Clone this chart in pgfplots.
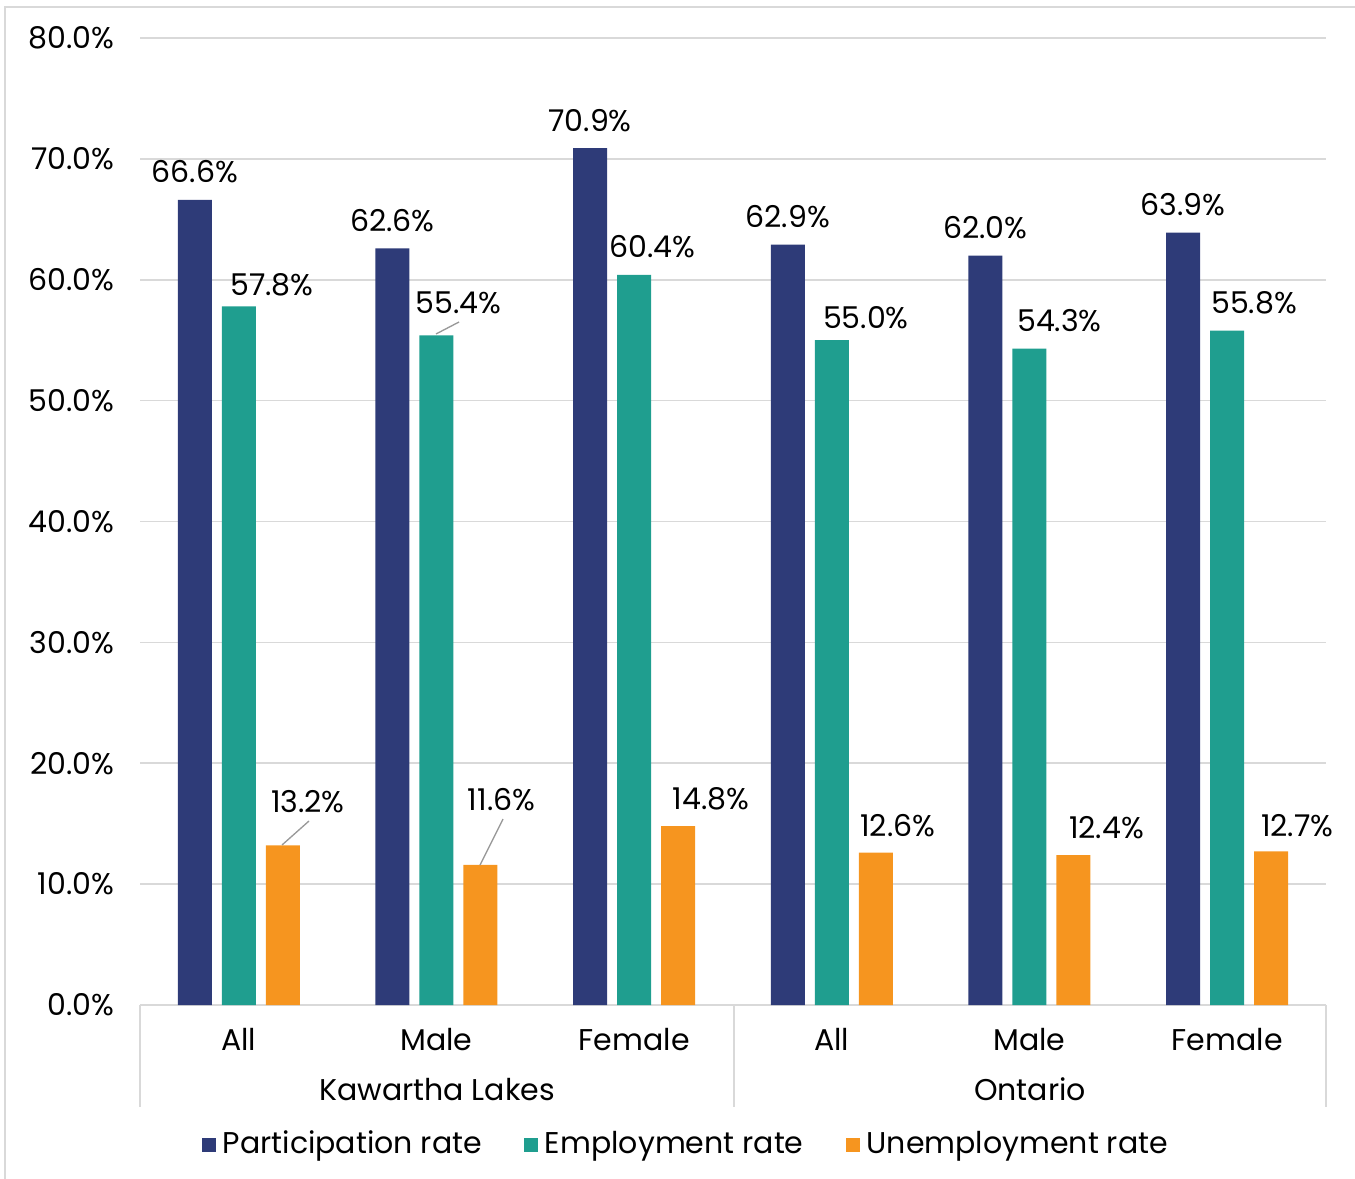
\documentclass[border=0pt]{standalone}
\usepackage{fontspec}
\setmainfont{Poppins}
\usepackage{pgfplots}
\usepackage{pgfplotstable}
\pgfplotsset{compat=1.18}

\definecolor{navy}{HTML}{2E3B78}
\definecolor{cteal}{HTML}{1F9E8F}
\definecolor{corange}{HTML}{F6951F}
\definecolor{gridgray}{HTML}{D9D9D9}

% label offsets in px (dx right of bar centre, dy baseline above bar top)
\pgfplotstableread{
x p e edx edy u udx udy
0 66.6 57.8 33 11 13.2 25 33
1 62.6 55.4 22 22 11.6 21 54
2 70.9 60.4 18 17 14.8 33 17
3 62.9 55.0 34 12 12.6 22 16
4 62.0 54.3 30 17 12.4 33 17
5 63.9 55.8 27 17 12.7 26 15
}\data

\begin{document}
\begin{tikzpicture}[font=\fontsize{9}{11}\selectfont]
\useasboundingbox (0,0) rectangle (406.5pt,353.4pt);
\begin{scope}[x=0.3pt,y=-0.3pt,shift={(0pt,353.4pt)}]
  \draw[gridgray, line width=0.6pt] (5,1200) -- (5,7) -- (1370,7);
\end{scope}

\begin{axis}[
  at={(42pt,51.9pt)}, anchor=south west,
  scale only axis, width=355.8pt, height=290.1pt,
  xmin=-0.5, xmax=5.5, ymin=0, ymax=80,
  ytick={0,10,...,80},
  xtick={0,...,5}, xticklabels={All,Male,Female,All,Male,Female},
  ymajorgrids, grid style={gridgray, line width=0.5pt},
  axis x line=bottom, axis y line=left,
  x axis line style={gridgray, line width=0.5pt, -},
  y axis line style={draw=none},
  major tick length=0pt,
  /pgf/number format/assume math mode=true,
  yticklabel={\pgfmathprintnumber[fixed,fixed zerofill,precision=1]{\tick}\%},
  yticklabel style={anchor=east, inner sep=0pt, xshift=-7.5pt},
  xticklabel style={anchor=base, inner sep=0pt, yshift=-13.5pt},
  legend style={at={(0.4595,-0.1448)}, anchor=center, draw=none, fill=none,
    nodes={inner sep=0pt},
    /tikz/every odd column/.append style={column sep=2.1pt},
    /tikz/every even column/.append style={column sep=12.6pt}},
  legend columns=3,
  legend image code/.code={\fill[#1,draw=none] (0pt,-2.1pt) rectangle (4.2pt,2.1pt);},
]
\addplot[ybar, bar width=10.2pt, bar shift=-13.2pt, fill=navy, draw=none,
  nodes near coords={\pgfmathprintnumber[fixed,fixed zerofill,precision=1]{\pgfplotspointmeta}\%},
  every node near coord/.append style={anchor=base, inner sep=0pt, text=black,
    xshift=-13.2pt, yshift=5.1pt}]
  table[x=x,y=p]{\data};
\addlegendentry{Participation rate}

\addplot[ybar, bar width=10.2pt, bar shift=0pt, fill=cteal, draw=none,
  nodes near coords={\pgfmathprintnumber[fixed,fixed zerofill,precision=1]{\pgfplotspointmeta}\%},
  visualization depends on={\thisrow{edx} \as \dx},
  visualization depends on={\thisrow{edy} \as \dy},
  every node near coord/.append style={anchor=base, inner sep=0pt, text=black,
    xshift=\dx*0.3pt, yshift=\dy*0.3pt}]
  table[x=x,y=e]{\data};
\addlegendentry{Employment rate}

\addplot[ybar, bar width=10.2pt, bar shift=13.2pt, fill=corange, draw=none,
  nodes near coords={\pgfmathprintnumber[fixed,fixed zerofill,precision=1]{\pgfplotspointmeta}\%},
  visualization depends on={\thisrow{udx} \as \dx},
  visualization depends on={\thisrow{udy} \as \dy},
  every node near coord/.append style={anchor=base, inner sep=0pt, text=black,
    xshift=13.2pt+\dx*0.3pt, yshift=\dy*0.3pt}]
  table[x=x,y=u]{\data};
\addlegendentry{Unemployment rate}
\end{axis}

\begin{scope}[x=0.3pt,y=-0.3pt,shift={(0pt,353.4pt)}]
  \draw[gridgray, line width=0.5pt] (140,1005) -- (140,1107)
    (734,1005) -- (734,1107) (1326,1005) -- (1326,1107);
  \node[anchor=base, inner sep=0pt] at (437,1100) {Kawartha Lakes};
  \node[anchor=base, inner sep=0pt] at (1030,1100) {Ontario};
  \draw[black!40, line width=0.4pt] (282,845) -- (309,821)
    (480,865) -- (503,819) (436,334) -- (459,322);
\end{scope}
\end{tikzpicture}
\end{document}
